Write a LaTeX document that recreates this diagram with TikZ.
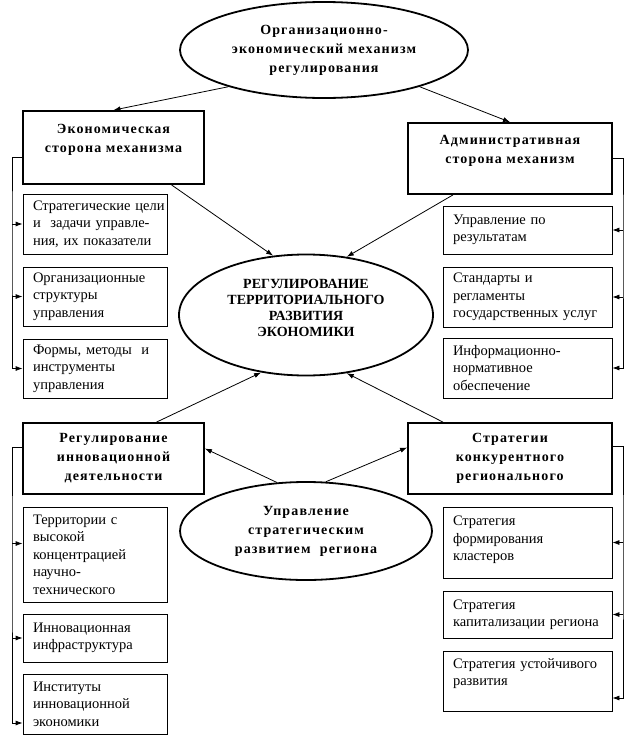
\documentclass[tikz,border=0pt]{standalone}
\usepackage{fontspec}
\setmainfont{Liberation Serif}
\newfontfamily\hdfont[LetterSpace=8]{Liberation Serif}
\usetikzlibrary{shapes.geometric,arrows.meta}
\tikzstyle{oval}=[ellipse,draw,line width=1.8pt,inner sep=0pt,align=center,font=\hdfont\bfseries\fontsize{14}{19}\selectfont]
\tikzstyle{head}=[rectangle,draw,line width=1.8pt,inner sep=0pt,align=center,font=\hdfont\bfseries\fontsize{14}{19}\selectfont]
\tikzstyle{item}=[rectangle,draw,line width=0.8pt,inner xsep=10pt,inner ysep=0pt,align=left,font=\fontsize{14.5}{17.5}\selectfont]
\tikzstyle{itemL}=[item,text width=124pt]
\tikzstyle{itemR}=[item,text width=149pt]

\begin{document}
\begin{tikzpicture}[x=1pt,y=-1pt,>={Latex[length=7pt,width=5pt]},line width=0.8pt]
\useasboundingbox (0,0) rectangle (636,747);
% ellipses
\node[oval,minimum width=288pt,minimum height=96pt] at (324, 50) (org) {Организационно-\\экономический механизм\\регулирования};
\node[oval,minimum width=254pt,minimum height=121pt,text depth=14pt,font=\bfseries\fontsize{14}{15.8}\selectfont] at (306, 315) (centre) {РЕГУЛИРОВАНИЕ\\ТЕРРИТОРИАЛЬНОГО\\РАЗВИТИЯ\\ЭКОНОМИКИ};
\node[oval,minimum width=252pt,minimum height=98pt] at (306, 531) (mgmt) {Управление\\стратегическим\\развитием~~региона};
% headers
\node[head,minimum width=181pt,minimum height=73pt] at (113.5, 147.5) (econ) {Экономическая\\сторона механизма\\~};
\node[head,minimum width=204pt,minimum height=71pt] at (510, 158.5) (admin) {Административная\\сторона механизм\\~};
\node[head,minimum width=181pt,minimum height=71pt] at (113.5, 458.5) (reginn) {Регулирование\\инновационной\\деятельности};
\node[head,minimum width=204pt,minimum height=71pt] at (510, 458.5) (strat) {Стратегии\\конкурентного\\регионального};
% left items
\node[itemL,minimum height=60pt] at (95, 224) (e1) {Стратегические~цели\\ и~ задачи управле-\\ния, их показатели};
\node[itemL,minimum height=59pt] at (95, 296.5) (e2) {Организационные\\структуры\\управления};
\node[itemL,minimum height=59pt] at (95, 368.5) (e3) {Формы, методы~ и\\инструменты\\ управления};
\node[itemL,minimum height=95pt] at (95, 554.5) (i1) {Территории с\\высокой\\концентрацией\\научно-\\технического};
\node[itemL,minimum height=48pt] at (95, 638) (i2) {Инновационная\\инфраструктура};
\node[itemL,minimum height=60pt] at (95, 704) (i3) {Институты\\инновационной\\экономики};
% right items
\node[itemR,minimum height=48pt] at (527.5, 230) (a1) {Управление по\\результатам};
\node[itemR,minimum height=60pt] at (527.5, 297) (a2) {Стандарты и\\регламенты\\государственных~услуг};
\node[itemR,minimum height=60pt] at (527.5, 368) (a3) {Информационно-\\нормативное\\обеспечение};
\node[itemR,minimum height=71pt] at (527.5, 542.5) (s1) {Стратегия\\формирования\\кластеров\\[-9pt]~};
\node[itemR,minimum height=47pt] at (527.5, 614.5) (s2) {Стратегия\\капитализации~региона};
\node[itemR,minimum height=60pt] at (527.5, 681) (s3) {Стратегия~устойчивого\\развития\\~};
% bar coordinates
\coordinate (lbar) at (12, 0);
\coordinate (rbar) at (623, 0);
\coordinate (i1in) at ([yshift=11pt]i1.west);
% arrows between ovals and headers
\draw[->] (org.201) -- (econ.north);
\draw[->] (org.339) -- (admin.north);
\draw[->] ([xshift=58pt]econ.south) -- (centre.119);
\draw[->] ([xshift=-57pt]admin.south) -- (centre.55);
\draw[->] ([xshift=43pt]reginn.north) -- (centre.232);
\draw[->] ([xshift=-67pt]strat.north) -- (centre.305);
\draw[->] (mgmt.121) -- ([yshift=10pt]reginn.east);
\draw[->] (mgmt.68) -- ([yshift=11pt]strat.west);
% left bars
\draw[->] ([yshift=-10pt]econ.west) -| (lbar |- e1.west) |- (e3.west);
\draw[->] (lbar |- e1.west) -- (e1.west);
\draw[->] (lbar |- e2.west) -- (e2.west);
\draw[->] ([yshift=11pt]reginn.west) -| (lbar |- i1in) |- ([yshift=-19pt]i3.west);
\draw[->] (lbar |- i1in) -- (i1in);
\draw[->] (lbar |- i2.west) -- (i2.west);
% right bars
\draw[->] (admin.east) -| (rbar |- a1.east) |- (a3.east);
\draw[->] (rbar |- a1.east) -- (a1.east);
\draw[->] (rbar |- a2.east) -- (a2.east);
\draw[->] ([yshift=12pt]strat.east) -| (rbar |- s1.east) |- ([yshift=-17pt]s3.east);
\draw[->] (rbar |- s1.east) -- (s1.east);
\draw[->] (rbar |- s2.east) -- (s2.east);
\end{tikzpicture}
\end{document}
